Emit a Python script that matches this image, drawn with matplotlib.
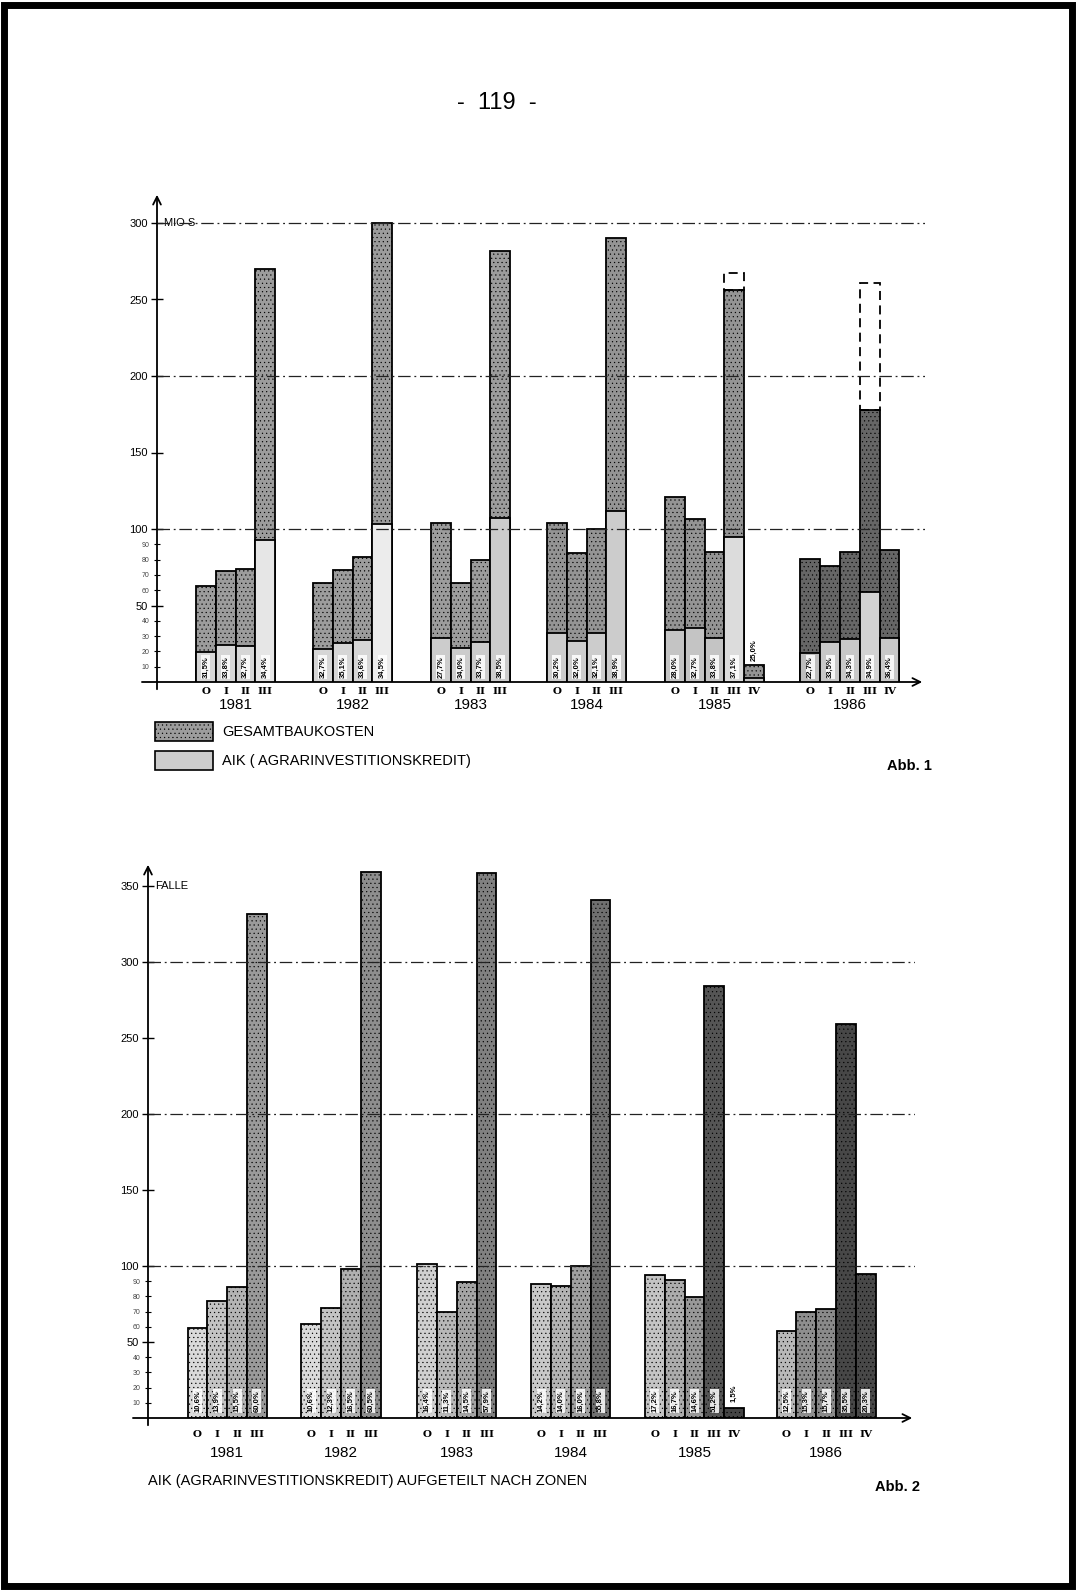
import matplotlib
matplotlib.use('Agg')
import matplotlib.pyplot as plt
from matplotlib.patches import Rectangle

plt.rcParams['font.family'] = ['Liberation Sans', 'DejaVu Sans']
plt.rcParams['hatch.linewidth'] = 0.35

# --- Daten ---
jahre = ['1981', '1982', '1983', '1984', '1985', '1986']
zonen = [['O', 'I', 'II', 'III'], ['O', 'I', 'II', 'III'], ['O', 'I', 'II', 'III'],
         ['O', 'I', 'II', 'III'], ['O', 'I', 'II', 'III', 'IV'], ['O', 'I', 'II', 'III', 'IV']]

# Abb. 1: Gesamtbaukosten und AIK in Mio S
gesamt = [[63, 72.5, 74, 270], [64.5, 73.5, 82, 300], [104, 64.5, 79.5, 282],
          [104, 84, 100, 290], [121, 106.5, 85, 256, 11], [80.5, 76, 85, 178, 86]]
aik = [[19.5, 24.5, 23.5, 92.5], [21.5, 25.5, 27.5, 103], [29, 22, 26, 107],
       [32, 27, 32, 112], [34, 35, 29, 94.5, 2.7], [19, 26, 28, 59, 28.5]]
aik_pct = [['31,5%', '33,8%', '32,7%', '34,4%'], ['32,7%', '35,1%', '33,6%', '34,5%'],
           ['27,7%', '34,0%', '33,7%', '38,5%'], ['30,2%', '32,0%', '32,1%', '38,9%'],
           ['28,0%', '32,7%', '33,8%', '37,1%', '25,0%'], ['22,7%', '33,5%', '34,3%', '34,9%', '36,4%']]
# gestrichelt angedeutete Werte (Jahr, Zone, Wert)
geplant = [('1985', 'III', 267), ('1986', 'III', 261)]

# Abb. 2: AIK-Faelle nach Zonen
faelle = [[59, 77, 86.5, 331.5], [62, 72.5, 98, 359], [101.5, 70, 89.5, 358.5],
          [88, 87, 100, 341], [94, 91, 79.5, 284, 6.5], [57, 70, 72, 259, 95]]
faelle_pct = [['10,6%', '13,9%', '15,5%', '60,0%'], ['10,6%', '12,3%', '16,5%', '60,5%'],
              ['16,4%', '11,3%', '14,5%', '57,9%'], ['14,2%', '14,0%', '16,0%', '55,8%'],
              ['17,2%', '16,7%', '14,6%', '51,2%', '1,5%'], ['12,5%', '15,3%', '15,7%', '35,5%', '20,3%']]

# --- Layout (Pixel der Vorlage) ---
W, H = 1076, 1591
BW = 19.8  # Balkenbreite in px
start1 = [1.97, 7.88, 13.84, 19.7, 25.66, 32.5]
start2 = [2.0, 7.75, 13.6, 19.35, 25.1, 31.75]

# Farben
g_col = ['#9c9c9c', '#9c9c9c', '#9c9c9c', '#949494', '#949494', '#666666']
a_col = [['#d6d6d6', '#d6d6d6', '#d6d6d6', '#e6e6e6'], ['#d6d6d6', '#d6d6d6', '#d6d6d6', '#ececec'],
         ['#cccccc'] * 4, ['#cccccc'] * 4, ['#c4c4c4', '#c4c4c4', '#c4c4c4', '#dcdcdc', '#c4c4c4'],
         ['#bdbdbd', '#c8c8c8', '#c8c8c8', '#d2d2d2', '#c8c8c8']]
f_col = [['#dadada', '#c4c4c4', '#b4b4b4', '#9a9a9a'], ['#dadada', '#c4c4c4', '#b0b0b0', '#8e8e8e'],
         ['#d0d0d0', '#b8b8b8', '#a4a4a4', '#808080'], ['#c8c8c8', '#b4b4b4', '#a0a0a0', '#707070'],
         ['#c4c4c4', '#acacac', '#989898', '#555555', '#444444'],
         ['#b8b8b8', '#8e8e8e', '#8a8a8a', '#474747', '#484848']]


def fx(px):
    return px / W


def fy(py):
    return 1 - py / H


fig = plt.figure(figsize=(W / 100, H / 100), dpi=100)
fig.patches.append(Rectangle((0.004, 0.003), 0.992, 0.994, transform=fig.transFigure,
                             fill=False, lw=5, ec='black'))
fig.text(fx(497), fy(103), '-  119  -', fontsize=17, ha='center', va='center')


def setup_axis(ax, x0, x1, ymax, unit, unit_y, px_per_unit):
    ax.set_xlim(0, (x1 - x0) / BW)
    ax.set_ylim(0, ymax)
    for s in ['top', 'right', 'bottom', 'left']:
        ax.spines[s].set_visible(False)
    ax.set_xticks([])
    ax.set_yticks(range(50, int(ymax) + 1, 50))
    ax.set_yticklabels([str(v) for v in range(50, int(ymax) + 1, 50)], fontsize=8)
    ax.set_yticks(range(10, 100, 10), minor=True)
    ax.set_yticklabels([str(v) for v in range(10, 100, 10)], minor=True, fontsize=5, color='#444444')
    ax.tick_params(axis='y', which='major', direction='inout', length=9, width=1, pad=2)
    ax.tick_params(axis='y', which='minor', direction='inout', length=5, width=0.8, pad=3)
    ax.annotate('', xy=(0, ymax), xytext=(0, -10 / px_per_unit), annotation_clip=False,
                arrowprops=dict(arrowstyle='->', lw=1.3, color='black', mutation_scale=14))
    ax.annotate('', xy=((x1 - x0) / BW, 0), xytext=(-0.9, 0), annotation_clip=False,
                arrowprops=dict(arrowstyle='->', lw=1.3, color='black', mutation_scale=14))
    ax.text(0.35, unit_y, unit, fontsize=8, va='center')
    for v in [100, 200, 300]:
        ax.axhline(v, color='#222222', lw=0.9, ls=(0, (10, 3, 1.5, 3)), zorder=5)


# --- Abb. 1 ---
x0, x1, yb, yt = 157, 925, 682, 192
ppu1 = 1.53
ax1 = fig.add_axes([fx(x0), fy(yb), fx(x1) - fx(x0), fy(yt) - fy(yb)])
setup_axis(ax1, x0, x1, (yb - yt) / ppu1, 'MIO S', 300, ppu1)

for g, jahr in enumerate(jahre):
    xs = [start1[g] + i + 0.5 for i in range(len(zonen[g]))]
    ax1.bar(xs, gesamt[g], width=1, color=g_col[g], ec='black', lw=1.3, hatch='....', zorder=2)
    ax1.bar(xs, aik[g], width=1, color=a_col[g], ec='black', lw=1.3, zorder=3)
    for i, x in enumerate(xs):
        if jahr == '1985' and zonen[g][i] == 'IV':
            ax1.text(x, gesamt[g][i] + 3, aik_pct[g][i], rotation=90, fontsize=5.5,
                     ha='center', va='bottom', fontweight='bold')
        else:
            ax1.text(x, 2.5, aik_pct[g][i], rotation=90, fontsize=5.5, ha='center', va='bottom',
                     fontweight='bold', zorder=6,
                     bbox=dict(fc='white', ec='none', pad=0.7, alpha=0.85))
        ax1.text(x, -6, zonen[g][i], fontsize=7.5, ha='center', va='center',
                 family='DejaVu Serif', fontweight='bold')
    ax1.text(sum(xs) / len(xs), -15, jahr, fontsize=11, ha='center', va='center')

for jahr, zone, wert in geplant:
    g = jahre.index(jahr)
    i = zonen[g].index(zone)
    oben = gesamt[g][i]
    ax1.bar(start1[g] + i + 0.5, wert - oben, bottom=oben, width=1, fill=False,
            ec='black', lw=1.3, ls=(0, (5, 3)), zorder=3)

# Legende
for k, (txt, fc, ht) in enumerate([('GESAMTBAUKOSTEN', g_col[0], '....'),
                                   ('AIK ( AGRARINVESTITIONSKREDIT)', a_col[2][0], None)]):
    top = 722 + k * 29
    fig.patches.append(Rectangle((fx(155), fy(top + 19)), fx(213) - fx(155), fy(top) - fy(top + 19),
                                 transform=fig.transFigure, fc=fc, ec='black', lw=1.2, hatch=ht))
    fig.text(fx(222), fy(top + 10), txt, fontsize=10.5, va='center')
fig.text(fx(932), fy(766), 'Abb. 1', fontsize=10.5, ha='right', va='center', fontweight='bold')

# --- Abb. 2 ---
x0, x1, yb, yt = 148, 915, 1418, 862
ppu2 = 1.52
ax2 = fig.add_axes([fx(x0), fy(yb), fx(x1) - fx(x0), fy(yt) - fy(yb)])
setup_axis(ax2, x0, x1, (yb - yt) / ppu2, 'FALLE', 350, ppu2)

for g, jahr in enumerate(jahre):
    xs = [start2[g] + i + 0.5 for i in range(len(zonen[g]))]
    ax2.bar(xs, faelle[g], width=1, color=f_col[g], ec='black', lw=1.3, hatch='....', zorder=2)
    for i, x in enumerate(xs):
        if jahr == '1985' and zonen[g][i] == 'IV':
            ax2.text(x, faelle[g][i] + 4, faelle_pct[g][i], rotation=90, fontsize=5.5,
                     ha='center', va='bottom', fontweight='bold')
        else:
            ax2.text(x, 4, faelle_pct[g][i], rotation=90, fontsize=5.5, ha='center', va='bottom',
                     fontweight='bold', zorder=6,
                     bbox=dict(fc='white', ec='none', pad=0.7, alpha=0.85))
        ax2.text(x, -11, zonen[g][i], fontsize=7.5, ha='center', va='center',
                 family='DejaVu Serif', fontweight='bold')
    ax2.text(sum(xs) / len(xs), -23, jahr, fontsize=11, ha='center', va='center')

fig.text(fx(148), fy(1481), 'AIK (AGRARINVESTITIONSKREDIT) AUFGETEILT NACH ZONEN',
         fontsize=10.5, va='center')
fig.text(fx(920), fy(1487), 'Abb. 2', fontsize=10.5, ha='right', va='center', fontweight='bold')

fig.savefig('out.png', dpi=100, facecolor='white')
